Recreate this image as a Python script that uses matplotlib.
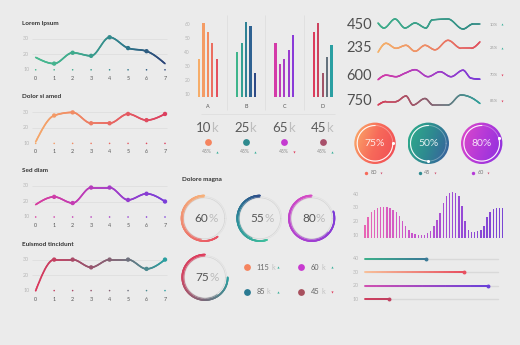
import numpy as np
import matplotlib
matplotlib.use("Agg")
import matplotlib.pyplot as plt
from matplotlib.bezier import BezierSegment
from matplotlib.collections import LineCollection
from matplotlib.colors import LinearSegmentedColormap
from matplotlib.patches import Circle

plt.rcParams['font.family'] = ['Lato', 'DejaVu Sans']

W, H = 520, 345
BG = '#ebebeb'
PT = 0.72  # points per pixel at dpi 100

# left column line charts
line_titles = ["Lorem Ipsum", "Dolor si amed", "Sed diam", "Euismod tincidunt"]
line_x = [0, 1, 2, 3, 4, 5, 6, 7]
lorem_ipsum = [18, 14, 21, 19, 31, 24, 22, 14]
dolor_si_amed = [11, 28, 30, 23, 23, 29, 25, 29]
sed_diam = [18, 23, 19, 29, 29, 21, 25, 20]
euismod_tincidunt = [10, 30, 30, 25, 30, 30, 24, 30]
line_yticks = [10, 20, 30]

# grouped bars
bar_groups = ["A", "B", "C", "D"]
bars_a = [35, 61, 54.5, 46.5, 35]
bars_b = [40, 46.5, 62, 59, 25.5]
bars_c = [47, 31.5, 35, 41.5, 52.5]
bars_d = [54.5, 61, 25.5, 36.5, 45]
bar_yticks = [10, 20, 30, 40, 50, 60]
group_totals = ["10", "25", "65", "45"]
group_change = ["45%", "45%", "45%", "45%"]

# sparklines
spark_values = ["450", "235", "600", "750"]
spark_change = ["10%", "25%", "70%", "85%"]
spark1_x = [0, 6, 17, 27, 37, 48, 54, 70, 85, 95, 102]
spark1_y = [7, 2, 11, 2, 7, 2, 10, 11, 1, 6, 6]
spark2_x = [0, 8, 18, 28, 37, 47, 57, 70, 83, 93, 102]
spark2_y = [1, 10, 5, 8, 2, 8, 3.5, 13, 5, 5, 11.5]
spark3_x = [0, 8, 18, 27, 37, 50, 62, 73, 85, 93, 102]
spark3_y = [1, 5.5, 4, 7.5, 11, 4, 9, 4, 10.5, 2.5, 1.5]
spark4_x = [0, 8, 18, 28, 35, 47, 55, 70, 83, 93, 102]
spark4_y = [1, 4.5, 4.5, 10, 1, 7.5, 1, 1, 11, 8.5, 2.5]

# gauges and rings
gauge_pct = [75, 50, 80]
gauge_sub = ["80", "45", "60"]
ring_pct = [60, 55, 80, 75]
legend_vals = ["115", "60", "85", "45"]

# wave bars
wave_vals = [17, 23, 26.5, 28.5, 30, 30.5, 30.7, 30.5, 30, 28.5, 26.8, 23.7, 20,
             16.4, 13.4, 11.5, 10.5, 10, 10, 10.2, 11.5, 13.2, 16.4, 20.7, 26.1,
             33.4, 38.3, 41, 41.5, 41, 38.3, 31, 20, 13.9, 12, 12, 12.7, 13.9,
             16.8, 22.9, 26.8, 28.8, 29.5, 29.5, 29.8]
wave_yticks = [10, 20, 30, 40]

# sliders
slider_ticks = [40, 30, 20, 10]
slider_fill = [45.5, 74, 92.5, 18]


def cmap(colors):
    return LinearSegmentedColormap.from_list("c", colors)


fig = plt.figure(figsize=(W / 100, H / 100), dpi=100, facecolor=BG)


def px_axes(box, xmap, ymap):
    (xv0, xp0), (xv1, xp1) = xmap
    (yv0, yp0), (yv1, yp1) = ymap
    sx = (xv1 - xv0) / (xp1 - xp0)
    sy = (yv1 - yv0) / (yp1 - yp0)
    l, t, r, b = box
    ax = fig.add_axes([l / W, 1 - b / H, (r - l) / W, (b - t) / H])
    ax.set_xlim(xv0 + (l - xp0) * sx, xv0 + (r - xp0) * sx)
    ax.set_ylim(yv0 + (b - yp0) * sy, yv0 + (t - yp0) * sy)
    ax.set_axis_off()
    return ax


def fig_text(x, y, s, **kw):
    fig.text(x / W, 1 - y / H, s, **kw)


def monotone_curve(x, y, n=24):
    x = np.asarray(x, float)
    y = np.asarray(y, float)
    h = np.diff(x)
    s = np.diff(y) / h
    t = np.zeros(len(x))
    for i in range(1, len(x) - 1):
        p = (s[i - 1] * h[i] + s[i] * h[i - 1]) / (h[i - 1] + h[i])
        t[i] = (np.sign(s[i - 1]) + np.sign(s[i])) * min(abs(s[i - 1]), abs(s[i]), 0.5 * abs(p))
    t[0] = (3 * s[0] - t[1]) / 2
    t[-1] = (3 * s[-1] - t[-2]) / 2
    tt = np.linspace(0, 1, n)
    pts = []
    for i in range(len(h)):
        d = h[i] / 3
        cp = np.array([(x[i], y[i]), (x[i] + d, y[i] + d * t[i]),
                       (x[i + 1] - d, y[i + 1] - d * t[i + 1]), (x[i + 1], y[i + 1])])
        seg = BezierSegment(cp)(tt)
        pts.append(seg if i == 0 else seg[1:])
    return np.vstack(pts)


def grad_line(ax, pts, cm, lw, z=3, alpha=1.0, frac=None):
    segs = np.stack([pts[:-1], pts[1:]], axis=1)
    if frac is None:
        mx = (pts[:-1, 0] + pts[1:, 0]) / 2
        frac = (mx - pts[:, 0].min()) / (pts[:, 0].max() - pts[:, 0].min())
    lc = LineCollection(segs, colors=cm(frac), linewidths=lw, capstyle='round',
                        zorder=z, alpha=alpha)
    ax.add_collection(lc)


def tick_label(ax, s, xy, dx, dy, **kw):
    ax.annotate(s, xy=xy, xytext=(dx * PT, dy * PT), textcoords='offset points', **kw)


# ---------- line charts ----------
line_series = [lorem_ipsum, dolor_si_amed, sed_diam, euismod_tincidunt]
line_cmaps = [cmap(['#48ba8f', '#3ea98d', '#2f7d8c', '#2b4478']),
              cmap(['#f5a86a', '#f08763', '#e55d62', '#dc3f5f']),
              cmap(['#d83e9f', '#c13bb5', '#9a3ccc', '#7a3ed8']),
              cmap(['#dc365b', '#a24d6a', '#7a6a78', '#2a9fa0'])]
line_marks = [range(1, 7), range(1, 8), range(1, 8), range(1, 8)]

for k, (title, vals) in enumerate(zip(line_titles, line_series)):
    y30 = 38.8 + 73.6 * k
    ax = px_axes((12, y30 - 22, 176, y30 + 48), ((0, 35.7), (7, 165)),
                 ((10, y30 + 31), (30, y30)))
    cm = line_cmaps[k]
    fig_text(21.7, y30 - 15.5, title, fontsize=4.6, fontweight='bold', color='#333333',
             va='center', ha='left')
    ax.hlines([20, 30], -0.22, 7.1, color='#dcdcdc', lw=0.5, zorder=1)
    xf = np.array(line_x) / 7
    ax.scatter(line_x, [10] * len(line_x), s=1.3, c=cm(xf), zorder=2, linewidths=0)
    pts = monotone_curve(line_x, vals)
    grad_line(ax, pts, cm, 1.2)
    idx = list(line_marks[k])
    ax.scatter([line_x[i] for i in idx], [vals[i] for i in idx], s=10,
               c=cm(xf[idx]), zorder=4, linewidths=0)
    for t in line_yticks:
        tick_label(ax, str(t), (0, t), -6.5, 0, ha='right', va='center',
                   fontsize=3.8, color='#b5b5b5')
    for xv in line_x:
        tick_label(ax, str(xv), (xv, 10), 0, -8.5, ha='center', va='center',
                   fontsize=3.9, color='#555555')

# ---------- grouped bars ----------
bar_vals = [bars_a, bars_b, bars_c, bars_d]
bar_cmaps = [cmap(['#f6ad69', '#f28c62', '#e5505e']),
             cmap(['#3fb58c', '#2f9a94', '#2f6a96', '#2e4a86']),
             cmap(['#d43aa8', '#a93dc6', '#8a3ad8']),
             cmap(['#dc3c5c', '#c84560', '#7a6270', '#2a9fa2'])]
dot_colors = ['#f5845f', '#2e8a8e', '#c43ad0', '#a8506a']
tri_colors = ['#3ab09a', '#3ab09a', '#e04060', '#3ab09a']
GAP = 8.7
axb = px_axes((178, 8, 345, 160), ((0, 199), (1, 203.4)), ((10, 94.3), (60, 24.3)))
for g, vals in enumerate(bar_vals):
    xs = g * GAP + np.arange(len(vals))
    axb.bar(xs, np.array(vals) - 8, bottom=8, width=0.5,
            color=bar_cmaps[g](np.linspace(0, 1, len(vals))), zorder=3)
    c = g * GAP + 2
    tick_label(axb, bar_groups[g], (c, 8), 0, -9, ha='center', va='center',
               fontsize=3.9, color='#555555')
    axb.text(c + 0.8, -13.9, group_totals[g], ha='right', va='center', fontsize=9.5,
             color='#5a5a5a')
    axb.text(c + 0.8, -13.9, "k", ha='left', va='center', fontsize=9.5,
             color='#bdbdbd')
    axb.scatter([c], [-23.9], s=24, color=dot_colors[g], linewidths=0, zorder=3)
    axb.text(c - 0.2, -31, group_change[g], ha='center', va='center', fontsize=3.6,
             color='#888888')
    axb.scatter([c + 2.1], [-31], s=2.5, marker='^' if g != 2 else 'v',
                color=tri_colors[g], linewidths=0)
axb.vlines([g * GAP + 6.35 for g in range(3)], -1.2, 66.6, color='#dcdcdc', lw=0.5)
axb.hlines(-4.1, 0.45, 30.9, color='#dcdcdc', lw=0.5)
for t in bar_yticks:
    tick_label(axb, str(t), (0, t), -9, 0, ha='right', va='center', fontsize=3.5,
               color='#b5b5b5')

# ---------- sparklines ----------
spark_x = [spark1_x, spark2_x, spark3_x, spark4_x]
spark_y = [spark1_y, spark2_y, spark3_y, spark4_y]
spark_cmaps = [cmap(['#3eae8a', '#3a9e8a', '#2f8a84']),
               cmap(['#f5b26a', '#ee8a66', '#e0505e']),
               cmap(['#d43aa6', '#a83dc4', '#7a3ad8']),
               cmap(['#d8405a', '#8a6070', '#2fa09a'])]
spark_tri = ['#3ab09a', '#3ab09a', '#e04060', '#e04060']
spark_base = [30, 53.3, 80.7, 106]
for r in range(4):
    base = spark_base[r]
    ax = px_axes((340, base - 18, 515, base + 6), ((0, 378), (1, 379)),
                 ((0, base), (1, base - 1)))
    pts = monotone_curve(spark_x[r], spark_y[r])
    grad_line(ax, pts, spark_cmaps[r], 1.1)
    ax.text(-31.3, 4.8, spark_values[r], ha='left', va='center', fontsize=10.5,
            color='#505050')
    ax.text(112, 5.5, spark_change[r], ha='left', va='center', fontsize=3.0,
            color='#999999')
    ax.scatter([124], [5.5], s=2, marker='^' if r < 2 else 'v', color=spark_tri[r],
               linewidths=0)

# ---------- gauges ----------
gauge_cmaps = [cmap(['#fbb06a', '#f76a5a', '#f04b55']),
               cmap(['#2fb08a', '#2e8a90', '#3a5aa0']),
               cmap(['#e04ac8', '#b53ad8', '#8a30e0'])]
gauge_cx = [375, 428.3, 481.7]
yy, xx = np.mgrid[-1:1:120j, -1:1:120j]
grad = xx - 0.35 * yy
theta = np.linspace(0, 2 * np.pi, 240)
for i, p in enumerate(gauge_pct):
    cx, cy, rr = gauge_cx[i], 143.3, 20.7
    ax = px_axes((cx - 27, cy - 27, cx + 27, cy + 36), ((0, cx), (1, cx + rr)),
                 ((0, cy), (1, cy - rr)))
    xl, yl = ax.get_xlim(), ax.get_ylim()
    im = ax.imshow(grad, extent=(-1, 1, -1, 1), origin='lower', cmap=gauge_cmaps[i],
                   aspect='auto', interpolation='bilinear', zorder=1)
    im.set_clip_path(Circle((0, 0), 1, transform=ax.transData))
    ax.set_xlim(xl)
    ax.set_ylim(yl)
    ax.plot(0.86 * np.cos(theta), 0.86 * np.sin(theta), color='white', alpha=0.35,
            lw=0.6, zorder=2)
    ang = np.radians(90 + np.linspace(0, 3.6 * p, 150))
    ax.plot(0.86 * np.cos(ang), 0.86 * np.sin(ang), color='white', alpha=0.9, lw=0.8,
            zorder=3)
    ax.scatter([0.86 * np.cos(ang[-1])], [0.86 * np.sin(ang[-1])], s=5, color='white',
               zorder=4, linewidths=0)
    ax.text(0, 0, f"{p}%", ha='center', va='center', fontsize=7.5,
            color='white', alpha=0.85, zorder=5)
    ax.scatter([-0.42], [-1.42], s=6, color=gauge_cmaps[i](0.5), linewidths=0)
    ax.text(-0.2, -1.42, gauge_sub[i], ha='left', va='center', fontsize=4,
            color='#777777')
    ax.scatter([0.3], [-1.42], s=2, marker='v', color='#d05070', linewidths=0)

# ---------- rings ----------
fig_text(181.7, 180, "Dolore magna", fontsize=4.6, fontweight='bold', color='#333333',
         va='center', ha='left')
ring_cmaps = [cmap(['#f7b27a', '#f08a70', '#e84f62']),
              cmap(['#2b4a88', '#2c8f9a', '#3fbf9d']),
              cmap(['#d84ac4', '#b040d0', '#7a38d8']),
              cmap(['#e03c5c', '#d04462', '#7a6a7a', '#2a9fa0'])]
ring_centers = [(204.3, 218.3), (260, 218.3), (311.7, 218.3), (205, 277.3)]
for i, p in enumerate(ring_pct):
    cx, cy = ring_centers[i]
    rr = 22.7
    ax = px_axes((cx - 26, cy - 26, cx + 26, cy + 26), ((0, cx), (1, cx + rr)),
                 ((0, cy), (1, cy - rr)))
    ax.plot(0.9 * np.cos(theta), 0.9 * np.sin(theta), color='#d4d4d4', lw=0.5)
    ax.plot(0.96 * np.cos(theta), 0.96 * np.sin(theta), color='#dedede', lw=0.4)
    ang = np.radians(90 + np.linspace(0, 3.6 * p, 200))
    pts = np.column_stack([np.cos(ang), np.sin(ang)])
    grad_line(ax, pts, ring_cmaps[i], 1.3, frac=np.linspace(0, 1, len(pts) - 1))
    ang2 = np.radians(90 + np.linspace(0, 3.6 * p * 0.8, 160))
    pts2 = 0.93 * np.column_stack([np.cos(ang2), np.sin(ang2)])
    grad_line(ax, pts2, ring_cmaps[i], 0.6, alpha=0.55,
              frac=np.linspace(0, 0.8, len(pts2) - 1))
    ax.text(0.18, 0, str(p), ha='right', va='center', fontsize=8.5,
            color='#555555')
    ax.text(0.18, 0, "%", ha='left', va='center', fontsize=8.5,
            color='#bbbbbb')

# legend next to the last ring
leg_pos = [(0, 0), (1, 0), (0, 1), (1, 1)]
leg_colors = ['#f5845f', '#c83ad0', '#2a7a92', '#a8505e']
leg_tri = ['#3ab09a', '#3ab09a', '#3ab09a', '#e04060']
axl = px_axes((238, 255, 345, 305), ((0, 246.7), (1, 301)), ((0, 267.3), (1, 291.7)))
for (cxl, cyl), v, col, tc in zip(leg_pos, legend_vals, leg_colors, leg_tri):
    axl.scatter([cxl], [cyl], s=24, color=col, linewidths=0)
    axl.text(cxl + 0.18, cyl, v, ha='left', va='center', fontsize=5.3, color='#666666')
    axl.text(cxl + 0.18 + 0.095 * len(v), cyl, "k", ha='left', va='center',
             fontsize=5.3, color='#c2c2c2')
    axl.scatter([cxl + 0.57], [cyl], s=2.5, marker='^' if tc == '#3ab09a' else 'v',
                color=tc, linewidths=0)

# ---------- wave bars ----------
axw = px_axes((345, 185, 512, 245), ((0, 365), (1, 368.13)), ((10, 235), (40, 194)))
wcm = cmap(['#e866b5', '#c955cc', '#9a4bd6', '#7a45d4'])
axw.bar(np.arange(len(wave_vals)), np.array(wave_vals) - 8, bottom=8, width=0.45,
        color=wcm(np.linspace(0, 1, len(wave_vals))))
for t in wave_yticks:
    tick_label(axw, str(t), (0, t), -6, 0, ha='right', va='center', fontsize=3.8,
               color='#b5b5b5')

# ---------- sliders ----------
axs = px_axes((345, 250, 512, 308), ((0, 365), (100, 498.3)), ((10, 299.3), (40, 259)))
slider_cmaps = [cmap(['#3cb08a', '#3a7a96']),
                cmap(['#f8c09a', '#e85060']),
                cmap(['#d050b0', '#6a40d8']),
                cmap(['#d04060', '#c04060'])]
for t, v, cm in zip(slider_ticks, slider_fill, slider_cmaps):
    axs.plot([0, 100], [t, t], color='#d9d9d9', lw=1.0, solid_capstyle='round', zorder=1)
    xs = np.linspace(0, v, 60)
    pts = np.column_stack([xs, np.full_like(xs, t)])
    grad_line(axs, pts, cm, 1.4, frac=np.linspace(0, 1, len(pts) - 1))
    axs.scatter([v], [t], s=8, color=cm(1.0), zorder=4, linewidths=0)
    tick_label(axs, str(t), (0, t), -6, 0, ha='right', va='center', fontsize=3.8,
               color='#b5b5b5')

fig.savefig("out.png", dpi=100, facecolor=BG)
